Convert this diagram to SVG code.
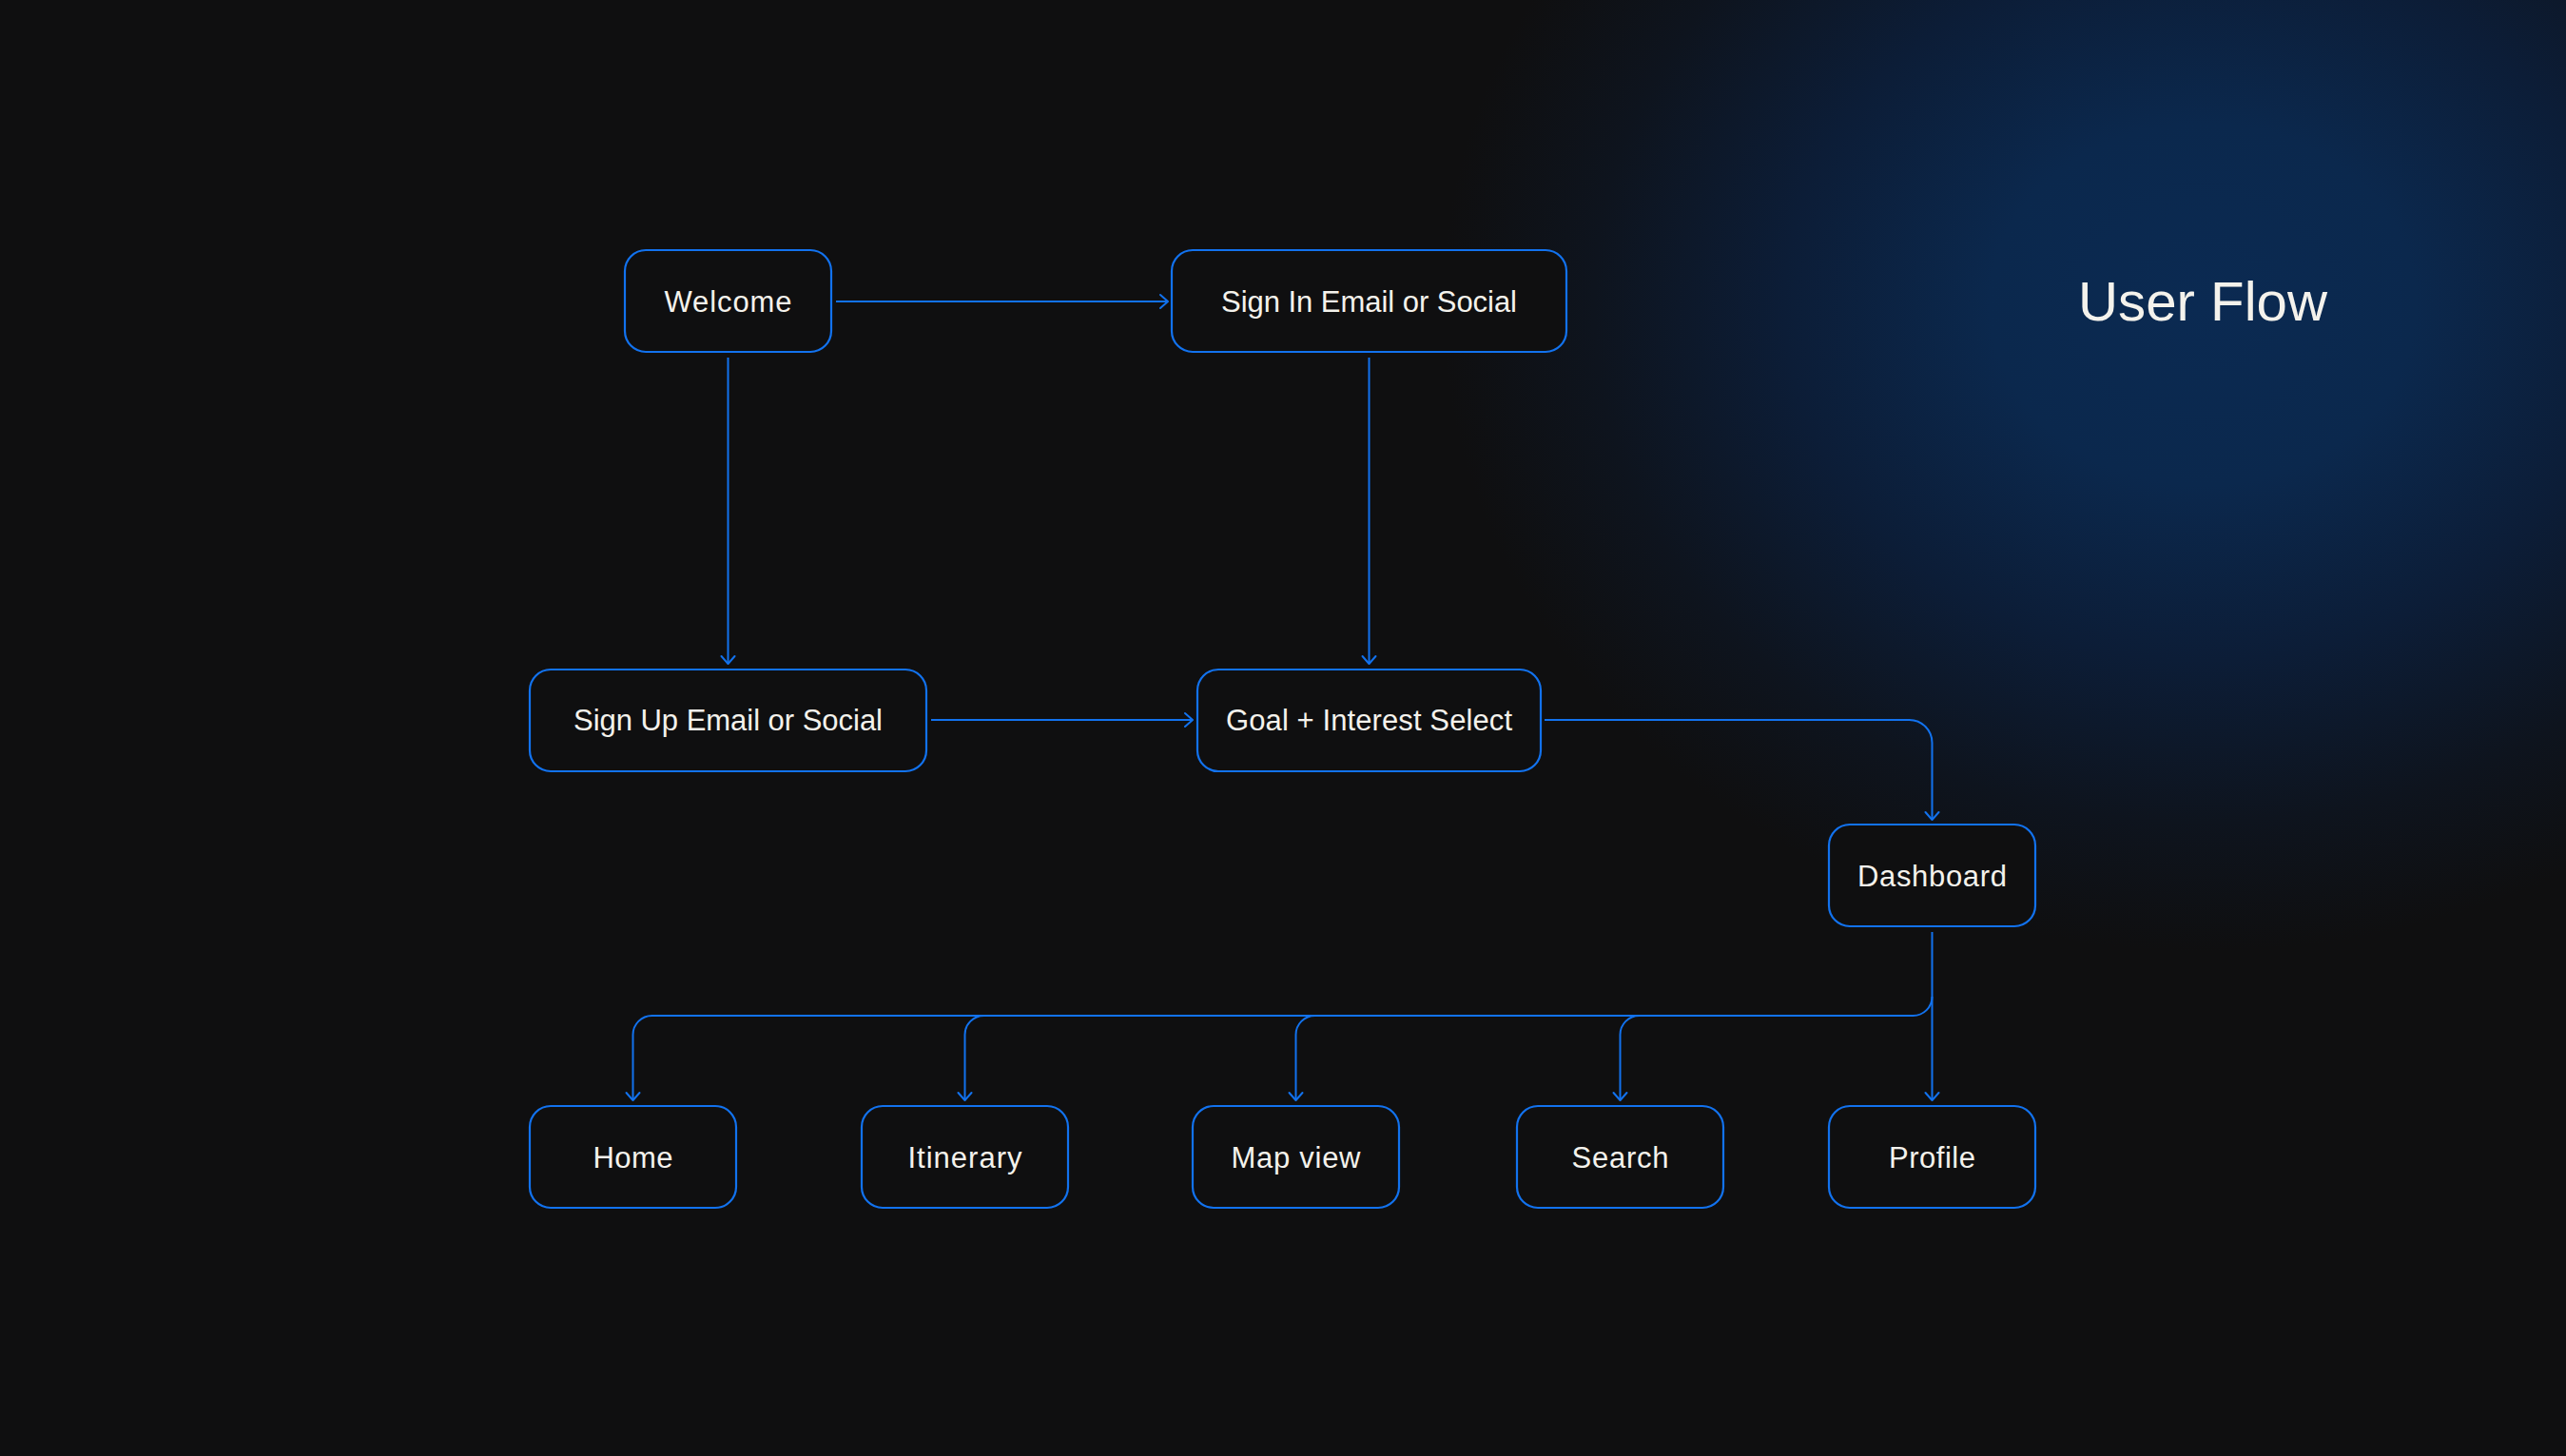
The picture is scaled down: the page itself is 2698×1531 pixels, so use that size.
<svg xmlns="http://www.w3.org/2000/svg" width="2698" height="1531" viewBox="0 0 2698 1531">
<defs>
<radialGradient id="glow" cx="2316" cy="320" r="800" gradientUnits="userSpaceOnUse" gradientTransform="translate(2316 320) scale(1 0.85) translate(-2316 -320)">
<stop offset="0" stop-color="#0b2a52"/>
<stop offset="0.28" stop-color="#0b284d"/>
<stop offset="0.55" stop-color="#0c1d37"/>
<stop offset="0.8" stop-color="#0e141e"/>
<stop offset="1" stop-color="#0f0f10"/>
</radialGradient>
<marker id="arr" viewBox="-10 -10 20 20" markerWidth="20" markerHeight="20" refX="0" refY="0" orient="auto" markerUnits="userSpaceOnUse">
<path d="M-8,-7 L0,0 L-8,7" fill="none" stroke="#1272ee" stroke-width="2" stroke-linecap="round" stroke-linejoin="round"/>
</marker>
<style>
.box{fill:#0f0f10;stroke:#1272ee;stroke-width:2.2}
.lbl{font-family:"Liberation Sans",Arial,sans-serif;font-size:31px;fill:#f4f2ec;text-anchor:middle}
.con{fill:none;stroke:#1272ee;stroke-width:2;marker-end:url(#arr)}
</style>
</defs>
<rect width="2698" height="1531" fill="#0f0f10"/>
<rect width="2698" height="1531" fill="url(#glow)"/>
<text x="2316" y="337" font-family="Liberation Sans, Arial, sans-serif" font-size="58" fill="#f4f2ec" text-anchor="middle" textLength="262" lengthAdjust="spacingAndGlyphs">User Flow</text>

<g id="connectors">
<path class="con" d="M879,317 H1228"/>
<path class="con" d="M765.5,376 V698"/>
<path class="con" d="M1439.5,376 V698"/>
<path class="con" d="M979,757 H1254"/>
<path class="con" d="M1624,757 H2007.5 A24,24 0 0 1 2031.5,781 V862"/>
<path class="con" d="M2031.5,980 V1157"/>
<path class="con" d="M2031.5,1048 A20,20 0 0 1 2011.5,1068 H685.5 A20,20 0 0 0 665.5,1088 V1157"/>
<path class="con" d="M1034.5,1068 A20,20 0 0 0 1014.5,1088 V1157"/>
<path class="con" d="M1382.5,1068 A20,20 0 0 0 1362.5,1088 V1157"/>
<path class="con" d="M1723.5,1068 A20,20 0 0 0 1703.5,1088 V1157"/>
</g>

<g id="welcome"><rect class="box" x="657" y="263" width="217" height="107" rx="22"/><text class="lbl" x="765.5" y="328" textLength="134">Welcome</text></g>
<g id="signin"><rect class="box" x="1232" y="263" width="415" height="107" rx="22"/><text class="lbl" x="1439.5" y="328" textLength="311">Sign In Email or Social</text></g>
<g id="signup"><rect class="box" x="557" y="704" width="417" height="107" rx="22"/><text class="lbl" x="765.5" y="768" textLength="325">Sign Up Email or Social</text></g>
<g id="goal"><rect class="box" x="1259" y="704" width="361" height="107" rx="22"/><text class="lbl" x="1439.5" y="768" textLength="301">Goal + Interest Select</text></g>
<g id="dashboard"><rect class="box" x="1923" y="867" width="217" height="107" rx="22"/><text class="lbl" x="2031.5" y="932" textLength="157">Dashboard</text></g>
<g id="home"><rect class="box" x="557" y="1163" width="217" height="107" rx="22"/><text class="lbl" x="665.5" y="1228" textLength="84">Home</text></g>
<g id="itinerary"><rect class="box" x="906" y="1163" width="217" height="107" rx="22"/><text class="lbl" x="1014.5" y="1228" textLength="120">Itinerary</text></g>
<g id="mapview"><rect class="box" x="1254" y="1163" width="217" height="107" rx="22"/><text class="lbl" x="1362.5" y="1228" textLength="136">Map view</text></g>
<g id="search"><rect class="box" x="1595" y="1163" width="217" height="107" rx="22"/><text class="lbl" x="1703.5" y="1228" textLength="102">Search</text></g>
<g id="profile"><rect class="box" x="1923" y="1163" width="217" height="107" rx="22"/><text class="lbl" x="2031.5" y="1228" textLength="91">Profile</text></g>
</svg>
